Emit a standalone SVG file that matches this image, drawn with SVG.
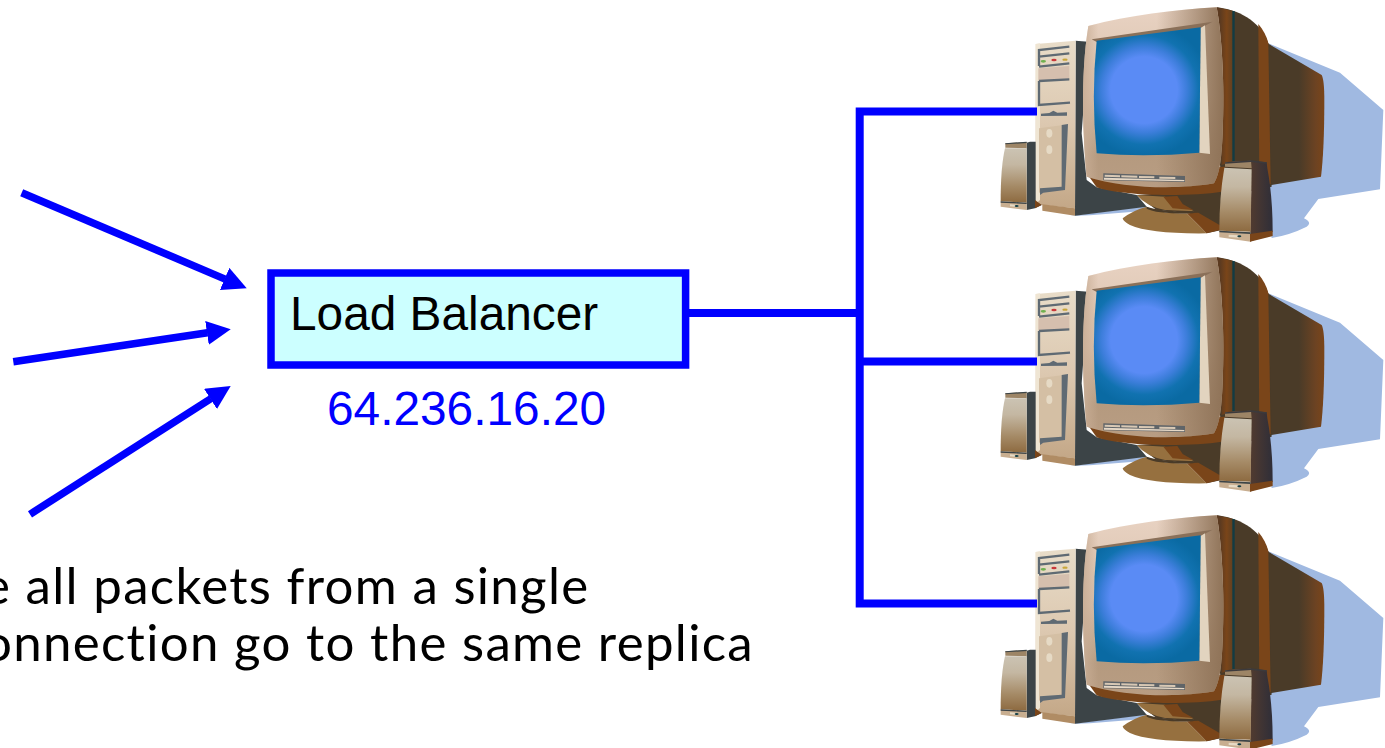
<svg xmlns="http://www.w3.org/2000/svg" width="1385" height="748" viewBox="0 0 1385 748">
<style>
.wire{fill:none;stroke:#0000ff;stroke-width:8}
.arrow{fill:none;stroke:#0000ff;stroke-width:7.5;marker-end:url(#head)}
.label{font-family:"Liberation Sans",Arial,sans-serif;font-size:47.8px}
.note{font-family:Lato,"Noto Sans",sans-serif;font-size:51px;letter-spacing:1.300px;fill:#000}
.slate{fill:none;stroke:#5f6a73;stroke-width:7}
.dk{fill:#4a3b28}.br{fill:#7a4519}.sl{fill:#3c4447}
</style>
<defs>
<marker id="head" markerUnits="userSpaceOnUse" markerWidth="24" markerHeight="24" viewBox="0 0 24 24" refX="0.5" refY="12" orient="auto"><path d="M0,0L24,12L0,24z" fill="#0000ff"/></marker>
<linearGradient id="back" gradientUnits="userSpaceOnUse" x1="835" y1="0" x2="1003" y2="0"><stop offset="0" stop-color="#4a3b28"/><stop offset=".55" stop-color="#4a3b28"/><stop offset=".85" stop-color="#6d4322"/><stop offset="1" stop-color="#7a4519"/></linearGradient>
<linearGradient id="side" gradientUnits="userSpaceOnUse" x1="690" y1="0" x2="730" y2="0"><stop offset="0" stop-color="#5b3a20"/><stop offset=".5" stop-color="#7a4519"/><stop offset="1" stop-color="#5d3f22"/></linearGradient>
<linearGradient id="bez" gradientUnits="userSpaceOnUse" x1="0" y1="30" x2="0" y2="560"><stop offset="0" stop-color="#e8d2c2"/><stop offset=".5" stop-color="#d8c0aa"/><stop offset=".82" stop-color="#b59a7f"/><stop offset="1" stop-color="#b89d83"/></linearGradient>
<linearGradient id="bezr" gradientUnits="userSpaceOnUse" x1="500" y1="0" x2="700" y2="0"><stop offset="0" stop-color="#8f7358" stop-opacity="0"/><stop offset="1" stop-color="#8f7358"/></linearGradient>
<linearGradient id="bezl" gradientUnits="userSpaceOnUse" x1="275" y1="0" x2="325" y2="0"><stop offset="0" stop-color="#c9ae96"/><stop offset="1" stop-color="#c9ae96" stop-opacity="0"/></linearGradient>
<radialGradient id="scr" gradientUnits="userSpaceOnUse" cx="462" cy="270" r="200"><stop offset="0" stop-color="#5a8bf5"/><stop offset=".5" stop-color="#5a8bf5"/><stop offset=".64" stop-color="#3d7edb"/><stop offset=".82" stop-color="#1172b0"/><stop offset="1" stop-color="#0a6aa3"/></radialGradient>
<linearGradient id="tow" gradientUnits="userSpaceOnUse" x1="0" y1="125" x2="0" y2="620"><stop offset="0" stop-color="#e8dcc8"/><stop offset=".5" stop-color="#dcc8b0"/><stop offset="1" stop-color="#c4a888"/></linearGradient>
<linearGradient id="spk" x1="0" y1="0" x2="0" y2="1"><stop offset="0" stop-color="#cbc3b3"/><stop offset=".3" stop-color="#c4b7a2"/><stop offset=".7" stop-color="#a58a66"/><stop offset="1" stop-color="#8d6a40"/></linearGradient>
<linearGradient id="spkd" gradientUnits="userSpaceOnUse" x1="785" y1="0" x2="848" y2="0"><stop offset="0" stop-color="#4f3a30"/><stop offset="1" stop-color="#2f2e38"/></linearGradient>
<g id="pc" transform="translate(990 0) scale(.33333)">
<path d="M835,130L1050,218L1180,330L1170,568L985,597L942,655Q968,668 950,680Q900,705 845,714L830,600Z" fill="#a0b9e1"/>
<path d="M240,648L470,618L470,632L300,646Z" fill="#a0b9e1"/>
<path d="M830,128L995,225Q1003,240 1003,300Q1003,450 993,530L840,556Z" fill="url(#back)"/>
<path d="M680,22C740,28 810,60 835,130L845,560L700,590L680,400Z" class="dk"/>
<path d="M805,72C820,90 830,108 835,130L842,552L808,558Z" class="br"/>
<path d="M680,22L730,33L730,482L695,495Z" fill="url(#side)"/>
<rect x="727" y="33" width="7" height="450" fill="#123c44"/>
<path d="M440,585L695,568L695,690L650,700L600,640L500,630Z" class="dk"/>
<path d="M398,655Q430,630 470,620Q500,640 590,640L650,700Q480,702 420,675Q400,665 398,655Z" fill="#96703f"/>
<path d="M590,640L625,638L690,676L690,690L650,700Z" class="br"/>
<path d="M440,585Q470,620 525,630L612,634L570,612L525,590Z" fill="#96703f"/>
<path d="M520,590L562,588L578,612L610,630L548,625Z" class="br"/>
<path d="M470,620Q510,635 610,634L610,640Q500,642 470,626Z" class="dk"/>
<path d="M257,122L295,125L275,400L290,540L320,562L440,585L470,620L255,647Z" class="sl"/>
<path d="M290,520L705,500L695,575C600,590 400,590 320,562Z" class="br"/>
<path d="M137,132L257,122L255,625L157,615L137,615Z" fill="url(#tow)"/>
<path d="M157,613L255,625L255,647L157,632Z" fill="#b08c64"/>
<path d="M137,132L150,130L150,600L137,612Z" fill="#efe5d3"/>
<path d="M145,205L238,198V238L145,243Z" fill="#d5bfae"/>
<path class="slate" d="M147,198V150L238,140M147,170L238,160M147,200L238,190M147,243L238,238M147,243V315L240,308"/>
<ellipse cx="160" cy="184" rx="8" ry="4" fill="#6fb04f"/><ellipse cx="192" cy="180" rx="8" ry="3.500" fill="#c9383a"/><ellipse cx="225" cy="179" rx="8" ry="3.500" fill="#c9a63a"/>
<path d="M153,341L178,339L190,332L202,338L231,337V347L153,348Z" fill="#5f6a73"/>
<path d="M147,385L215,376V565L147,578Z" fill="#d4bfa4"/>
<path d="M215,375L234,372L225,570L160,578L150,585V565L215,560Z" fill="#5f6a73"/>
<ellipse cx="178" cy="400" rx="9" ry="13" fill="#e6dac5"/><ellipse cx="178" cy="449" rx="9" ry="13" fill="#e6dac5"/>
<path d="M295,78C420,45 550,30 680,22C695,100 705,250 698,400C695,470 690,520 672,550C560,570 400,565 290,530C280,420 270,230 295,78Z" fill="url(#bez)"/>
<path d="M295,78C420,45 550,30 680,22C695,100 705,250 698,400C695,470 690,520 672,550C560,570 400,565 290,530C280,420 270,230 295,78Z" fill="url(#bezr)"/>
<path d="M295,78C420,45 550,30 680,22C695,100 705,250 698,400C695,470 690,520 672,550C560,570 400,565 290,530C280,420 270,230 295,78Z" fill="url(#bezl)"/>
<path d="M305,118L668,65L632,84L320,126Z" fill="#8a7059"/>
<path d="M632,84L645,76L660,462L628,458Z" fill="#e2d4bf"/>
<path d="M320,122L632,82L628,458Q470,472 320,460Q303,290 320,122Z" fill="url(#scr)"/>
<path d="M340,520L585,528V546L340,541Z" fill="#5f6468"/>
<path d="M344,524L390,526V532L344,530ZM394,526L442,527V533L394,532ZM447,528L493,529V535L447,534ZM508,530L556,531V537L508,536Z" fill="#d8c8b4"/>
<path d="M342,533L583,540V544L342,539Z" fill="#e6d8c6"/>
<path d="M120,425H137V605L155,615L135,625L110,630V428Z" class="sl"/>
<path d="M135,600L155,615L135,625Z" class="br"/>
<path d="M46,430L110,426V445L46,443Z" fill="#9d8566"/>
<path d="M46,430L110,425V429L46,433Z" fill="#3c4447"/>
<path d="M45,445L110,445V608L32,604Q32,500 45,445Z" fill="url(#spk)"/>
<path d="M32,604L110,608V630L32,620Z" fill="#c8ae90"/>
<path d="M32,604L110,608V612L32,608Z" fill="#3c4447"/>
<path d="M60,613L85,615V621L60,619Z" fill="#e6dac5"/><ellipse cx="80" cy="618" rx="6" ry="3" fill="#123c44"/>
<path d="M783,482L830,487L832,505Q848,590 848,695L780,725L785,505Z" fill="url(#spkd)"/>
<path d="M705,487L783,482L785,505L705,500Z" fill="#9d8566"/>
<path d="M705,487L783,481L830,487V491L783,486L705,491Z" fill="#3c3a3c"/>
<path d="M703,503L785,508L782,695L688,692Q688,590 703,503Z" fill="url(#spk)"/>
<path d="M688,692L782,697V725L688,712Z" fill="#c8ae90"/>
<path d="M688,692L782,697V702L688,697Z" fill="#3c4447"/>
<path d="M716,704L745,706V713L716,711Z" fill="#e6dac5"/><ellipse cx="748" cy="709" rx="6" ry="3" fill="#123c44"/>
<path d="M780,725L848,708V692L780,702Z" class="br"/>
</g>
</defs>
<rect width="1385" height="748" fill="#fff"/>
<g id="server-1"><use href="#pc"/></g>
<g id="server-2"><use href="#pc" y="250"/></g>
<g id="server-3"><use href="#pc" y="508"/></g>
<g id="connectors">
<line class="arrow" x1="21.7" y1="192.7" x2="225.1" y2="279.1"/>
<line class="arrow" x1="13.3" y1="361.7" x2="207.5" y2="332.8"/>
<line class="arrow" x1="30" y1="514.3" x2="210.9" y2="398.7"/>
<path class="wire" d="M689,313H860"/>
<path class="wire" d="M1037,111.500H859.700V603.500H1037M859.700,361.500H1037"/>
</g>
<g id="load-balancer">
<rect x="271" y="273" width="414.600" height="92" fill="#ccffff" stroke="#0000ff" stroke-width="7.500"/>
<text class="label" x="290" y="330" fill="#000">Load Balancer</text>
</g>
<text class="label" x="327" y="425" fill="#0000ff">64.236.16.20</text>
<text class="note" x="-17" y="604">e all packets from a single</text>
<text class="note" x="-17" y="661">onnection go to the same replica</text>
</svg>
